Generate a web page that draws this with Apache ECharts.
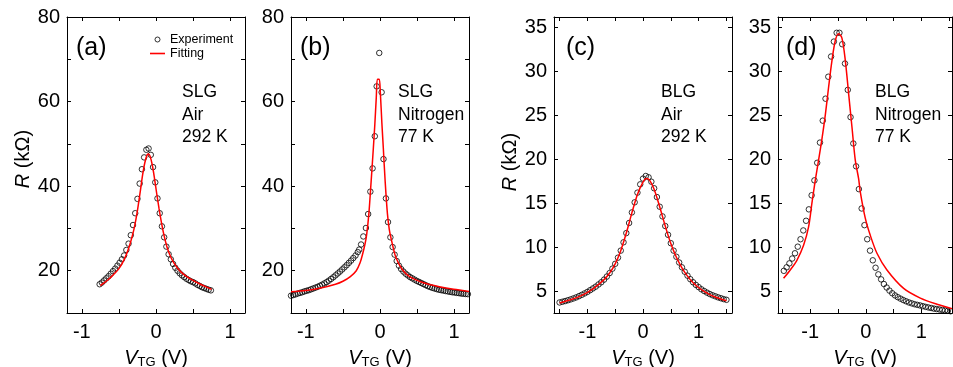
<!DOCTYPE html>
<html><head><meta charset="utf-8">
<script src="https://cdn.jsdelivr.net/npm/echarts@6/dist/echarts.min.js"></script>
<style>html,body{margin:0;padding:0;background:#fff}#c{width:953px;height:367px}</style>
</head><body><div id="c"></div>
<script>
// ---------- data ----------
const aExp = [[-0.76,16.8],[-0.73,17.2],[-0.70,17.7],[-0.67,18.2],[-0.64,18.7],[-0.61,19.3],[-0.58,19.9],[-0.55,20.5],[-0.52,21.2],[-0.49,21.9],[-0.46,22.7],[-0.43,23.6],[-0.40,24.9],[-0.37,26.4],[-0.34,28.4],[-0.31,30.8],[-0.28,33.6],[-0.25,37.0],[-0.22,40.6],[-0.19,44.0],[-0.16,46.8],[-0.13,48.6],[-0.10,48.9],[-0.07,47.4],[-0.04,44.5],[-0.01,40.9],[0.02,37.1],[0.05,33.6],[0.08,30.5],[0.11,27.9],[0.14,25.7],[0.17,23.9],[0.20,22.7],[0.23,21.6],[0.26,20.7],[0.29,20.0],[0.32,19.4],[0.35,18.9],[0.38,18.5],[0.41,18.1],[0.44,17.8],[0.47,17.5],[0.50,17.3],[0.53,17.0],[0.56,16.65],[0.59,16.4],[0.62,16.1],[0.65,15.9],[0.68,15.7],[0.71,15.5],[0.74,15.35]];
const aFit = [[-0.75,16.5],[-0.70,17.1],[-0.65,17.8],[-0.60,18.6],[-0.55,19.5],[-0.50,20.5],[-0.45,21.9],[-0.40,23.8],[-0.35,26.3],[-0.30,29.6],[-0.27,32.2],[-0.24,35.4],[-0.21,39.0],[-0.18,42.7],[-0.15,45.6],[-0.12,47.4],[-0.10,47.6],[-0.08,47.1],[-0.05,45.0],[-0.02,41.8],[0.01,38.2],[0.04,34.8],[0.07,31.7],[0.10,29.0],[0.15,25.5],[0.20,23.2],[0.25,21.6],[0.30,20.4],[0.35,19.5],[0.40,18.8],[0.50,17.7],[0.60,16.8],[0.70,16.0],[0.75,15.6]];

const bExp = [[-1.20,14.1],[-1.17,14.25],[-1.14,14.4],[-1.11,14.6],[-1.08,14.75],[-1.05,14.9],[-1.02,15.1],[-0.99,15.25],[-0.96,15.4],[-0.93,15.6],[-0.90,15.8],[-0.87,16.0],[-0.84,16.2],[-0.81,16.45],[-0.78,16.7],[-0.75,17.0],[-0.72,17.3],[-0.69,17.65],[-0.66,18.05],[-0.63,18.45],[-0.60,18.9],[-0.57,19.35],[-0.54,19.8],[-0.51,20.3],[-0.48,20.8],[-0.45,21.3],[-0.42,21.85],[-0.39,22.4],[-0.36,23.0],[-0.33,23.6],[-0.30,24.4],[-0.28,25.0],[-0.255,26.2],[-0.225,28.1],[-0.19,30.1],[-0.16,33.4],[-0.13,38.7],[-0.10,44.2],[-0.07,51.8],[-0.045,63.6],[-0.01,71.5],[0.022,62.2],[0.047,46.4],[0.08,37.1],[0.108,31.5],[0.14,27.9],[0.17,25.6],[0.197,23.8],[0.225,22.3],[0.255,21.2],[0.285,20.4],[0.315,19.8],[0.345,19.3],[0.375,18.9],[0.405,18.5],[0.435,18.2],[0.465,17.9],[0.495,17.6],[0.525,17.35],[0.555,17.1],[0.585,16.85],[0.615,16.6],[0.645,16.35],[0.675,16.15],[0.705,15.95],[0.735,15.8],[0.765,15.65],[0.795,15.5],[0.825,15.4],[0.855,15.3],[0.885,15.2],[0.915,15.1],[0.945,15.0],[0.975,14.9],[1.005,14.85],[1.035,14.75],[1.065,14.7],[1.095,14.6],[1.125,14.55],[1.155,14.5],[1.185,14.45]];
const bFit = [[-1.2,15.0],[-1.0,15.3],[-0.8,15.9],[-0.6,16.8],[-0.5,17.5],[-0.4,18.6],[-0.32,20.0],[-0.27,21.8],[-0.235,23.9],[-0.2,26.5],[-0.18,28.5],[-0.15,33.5],[-0.12,41.0],[-0.09,48.9],[-0.07,54.5],[-0.05,61.0],[-0.035,65.3],[-0.01,65.3],[0.005,62.0],[0.025,55.0],[0.045,48.9],[0.07,41.0],[0.10,33.5],[0.125,29.8],[0.15,27.6],[0.215,23.1],[0.3,20.3],[0.4,18.6],[0.575,17.2],[0.7,16.6],[0.89,15.9],[1.05,15.5],[1.2,15.1]];

const cExp = [[-1.50,3.7],[-1.45,3.78],[-1.40,3.86],[-1.35,3.95],[-1.30,4.05],[-1.25,4.16],[-1.20,4.28],[-1.15,4.42],[-1.10,4.57],[-1.05,4.73],[-1.00,4.9],[-0.95,5.1],[-0.90,5.3],[-0.85,5.5],[-0.80,5.75],[-0.75,6.0],[-0.70,6.3],[-0.65,6.65],[-0.60,7.05],[-0.55,7.55],[-0.50,8.1],[-0.45,8.8],[-0.40,9.6],[-0.35,10.55],[-0.30,11.6],[-0.25,12.75],[-0.20,13.95],[-0.15,15.1],[-0.10,16.2],[-0.05,17.15],[0.00,17.8],[0.05,18.1],[0.10,17.95],[0.15,17.45],[0.20,16.7],[0.25,15.7],[0.30,14.6],[0.35,13.5],[0.40,12.4],[0.45,11.4],[0.50,10.45],[0.55,9.6],[0.60,8.9],[0.65,8.25],[0.70,7.7],[0.75,7.2],[0.80,6.75],[0.85,6.35],[0.90,6.0],[0.95,5.7],[1.00,5.45],[1.05,5.2],[1.10,5.0],[1.15,4.82],[1.20,4.66],[1.25,4.52],[1.30,4.4],[1.35,4.28],[1.40,4.18],[1.45,4.08],[1.50,4.0]];
const cFit = [[-1.5,3.65],[-1.3,4.0],[-1.1,4.5],[-0.9,5.25],[-0.7,6.3],[-0.6,7.05],[-0.5,8.1],[-0.4,9.6],[-0.3,11.6],[-0.2,13.9],[-0.1,16.0],[0.0,17.4],[0.06,17.8],[0.12,17.6],[0.2,16.6],[0.3,14.6],[0.4,12.4],[0.5,10.4],[0.6,8.85],[0.7,7.65],[0.8,6.7],[0.9,5.95],[1.0,5.4],[1.1,4.95],[1.2,4.6],[1.3,4.32],[1.4,4.1],[1.5,3.9]];

const dExp = [[-1.475,7.3],[-1.425,7.7],[-1.375,8.15],[-1.325,8.7],[-1.275,9.3],[-1.225,10.05],[-1.175,10.9],[-1.125,11.9],[-1.075,13.0],[-1.025,14.3],[-0.975,15.9],[-0.925,17.6],[-0.875,19.6],[-0.825,21.9],[-0.775,24.4],[-0.725,26.9],[-0.675,29.4],[-0.625,31.7],[-0.575,33.4],[-0.525,34.4],[-0.475,34.4],[-0.425,33.1],[-0.375,30.9],[-0.325,27.9],[-0.275,24.8],[-0.225,21.8],[-0.175,19.2],[-0.125,16.6],[-0.075,14.4],[-0.025,12.5],[0.025,10.9],[0.075,9.6],[0.125,8.5],[0.175,7.65],[0.225,6.9],[0.275,6.33],[0.325,5.8],[0.375,5.4],[0.425,5.05],[0.475,4.75],[0.525,4.5],[0.575,4.3],[0.625,4.13],[0.675,3.97],[0.725,3.83],[0.775,3.7],[0.825,3.6],[0.875,3.5],[0.925,3.43],[0.975,3.36],[1.025,3.28],[1.075,3.2],[1.125,3.13],[1.175,3.07],[1.225,3.0],[1.275,2.95],[1.325,2.9],[1.375,2.85],[1.425,2.8],[1.475,2.75],[1.525,2.7]];
const dFit = [[-1.48,6.45],[-1.36,7.4],[-1.24,8.5],[-1.12,10.2],[-1.03,12.3],[-0.97,15.0],[-0.91,17.6],[-0.85,19.9],[-0.79,22.3],[-0.73,25.0],[-0.67,28.2],[-0.61,31.2],[-0.55,33.5],[-0.49,34.3],[-0.43,33.8],[-0.37,31.3],[-0.31,27.5],[-0.25,23.7],[-0.19,19.9],[-0.13,17.8],[-0.10,16.3],[-0.01,13.3],[0.077,11.4],[0.2,9.3],[0.38,7.4],[0.68,5.3],[0.98,4.2],[1.28,3.5],[1.55,3.0]];

const xTicksSLG = [-1,-0.5,0,0.5,1];
const xTicksBLG = [-1.5,-1,-0.5,0,0.5,1,1.5];
const xLabels = [-1,0,1];
const yTicksSLG = [20,30,40,50,60,70,80];
const yLabelsSLG = [20,40,60,80];
const yTicksBLG = [5,10,15,20,25,30,35];
const yLabelsBLG = [5,10,15,20,25,30,35];

const panelTexts = [['(a)','SLG\nAir\n292 K'],['(b)','SLG\nNitrogen\n77 K'],['(c)','BLG\nAir\n292 K'],['(d)','BLG\nNitrogen\n77 K']];

// ---------- layout / style ----------
const F = '"Liberation Sans", Arial, sans-serif';
const grids = [
  {left:67, top:17, width:178, height:296},
  {left:291, top:17, width:178, height:296},
  {left:554, top:17, width:178, height:296},
  {left:778, top:17, width:174, height:296}
];
const xr = [[-1.2,1.2],[-1.2,1.2],[-1.6,1.6],[-1.58,1.55]];
const yr = [[10,80],[10,80],[2.5,36.2],[2.5,36.2]];
const xt = [xTicksSLG,xTicksSLG,xTicksBLG,xTicksBLG];
const yt = [yTicksSLG,yTicksSLG,yTicksBLG,yTicksBLG];
const yl = [yLabelsSLG,yLabelsSLG,yLabelsBLG,yLabelsBLG];
const exps = [aExp,bExp,cExp,dExp];
const fits = [aFit,bFit,cFit,dFit];

const axLine = {show:true, onZero:false, lineStyle:{color:'#000', width:1}};
const xAxis = [], yAxis = [], series = [];
for (let i = 0; i < 4; i++) {
  const tick = (vals) => ({show:true, inside:true, length:4, customValues:vals, lineStyle:{color:'#000', width:1}});
  xAxis.push({type:'value', gridIndex:i, position:'bottom', min:xr[i][0], max:xr[i][1],
    axisLine:axLine, axisTick:tick(xt[i]), splitLine:{show:false},
    axisLabel:{customValues:xLabels, color:'#000', fontSize:20, fontFamily:F, margin:9},
    name:'{i|V}{s|TG} (V)', nameLocation:'middle', nameGap:34,
    nameTextStyle:{color:'#000', fontSize:20, fontFamily:F,
      rich:{i:{fontStyle:'italic', fontSize:20, fontFamily:F, color:'#000'},
            s:{fontSize:13, fontFamily:F, color:'#000', padding:[9,0,0,0]}}}
  });
  xAxis.push({type:'value', gridIndex:i, position:'top', min:xr[i][0], max:xr[i][1],
    axisLine:axLine, axisTick:tick(xt[i]), splitLine:{show:false}, axisLabel:{show:false}});
  const yMain = {type:'value', gridIndex:i, position:'left', min:yr[i][0], max:yr[i][1],
    axisLine:axLine, axisTick:tick(yt[i]), splitLine:{show:false},
    axisLabel:{customValues:yl[i], color:'#000', fontSize:20, fontFamily:F, margin:7}};
  if (i === 0 || i === 2) {
    Object.assign(yMain, {name:'{i|R} (kΩ)', nameLocation:'middle', nameRotate:90, nameGap:34,
      nameTextStyle:{color:'#000', fontSize:20, fontFamily:F, padding:[0,0,0, i===0?12:6],
        rich:{i:{fontStyle:'italic', fontSize:20, fontFamily:F, color:'#000'}}}});
  }
  yAxis.push(yMain);
  yAxis.push({type:'value', gridIndex:i, position:'right', min:yr[i][0], max:yr[i][1],
    axisLine:axLine, axisTick:tick(yt[i]), splitLine:{show:false}, axisLabel:{show:false}});
  series.push({type:'scatter', name:'Experiment', xAxisIndex:2*i, yAxisIndex:2*i, data:exps[i],
    symbol:'circle', symbolSize:5.5, itemStyle:{color:'rgba(0,0,0,0)', borderColor:'#000', borderWidth:1}, z:2, silent:true});
  series.push({type:'line', name:'Fitting', xAxisIndex:2*i, yAxisIndex:2*i, data:fits[i],
    showSymbol:false, symbol:'none', smooth:0.3, lineStyle:{color:'#ff0000', width:1.5}, itemStyle:{color:'#ff0000'}, z:3, silent:true});
}

const tx = [[76,182],[300,398],[566,661],[786,875]];
const graphic = [];
panelTexts.forEach((t, i) => {
  graphic.push({type:'text', left:tx[i][0], top:36, style:{text:t[0], font:'25px '+F, fill:'#000'}});
  graphic.push({type:'text', left:tx[i][1], top:81, style:{text:t[1], font:'17.5px '+F, lineHeight:22.5, fill:'#000'}});
});

const chart = echarts.init(document.getElementById('c'), null, {renderer:'canvas'});
chart.setOption({
  animation:false,
  backgroundColor:'#fff',
  grid: grids.map(g => Object.assign({containLabel:false, outerBoundsMode:'none'}, g)),
  xAxis, yAxis, series, graphic,
  legend:{
    data:[
      {name:'Experiment', icon:'circle', itemStyle:{color:'rgba(0,0,0,0)', borderColor:'#000', borderWidth:1}},
      {name:'Fitting', icon:'path://M0,0H15V1.6H0Z', itemStyle:{color:'#ff0000', borderWidth:0}}
    ],
    orient:'vertical', left:150, top:33, itemWidth:15, itemHeight:5, itemGap:1, padding:0, selectedMode:false,
    textStyle:{color:'#000', fontSize:12.5, fontFamily:F}}
});
</script></body></html>
